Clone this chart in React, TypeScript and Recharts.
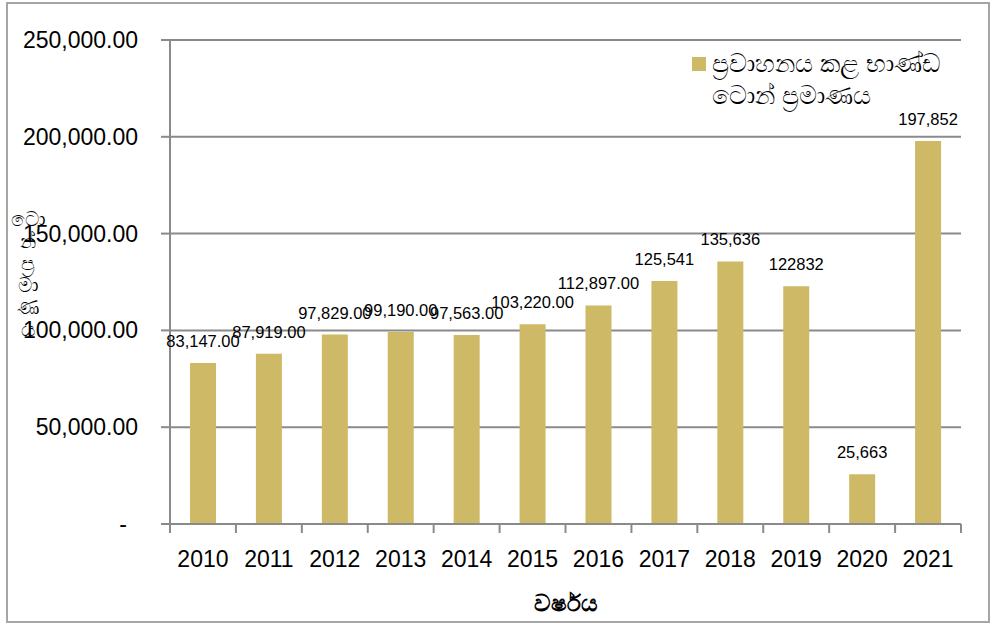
import React from 'react';
import { BarChart, Bar, XAxis, YAxis, CartesianGrid, LabelList, Legend } from 'recharts';

const years = ['2010', '2011', '2012', '2013', '2014', '2015', '2016', '2017', '2018', '2019', '2020', '2021'];
const tonnage = [83147, 87919, 97829, 99190, 97563, 103220, 112897, 125541, 135636, 122832, 25663, 197852];
const valueLabels = ['83,147.00', '87,919.00', '97,829.00', '99,190.00', '97,563.00', '103,220.00', '112,897.00', '125,541', '135,636', '122832', '25,663', '197,852'];
const yTicks = [0, 50000, 100000, 150000, 200000, 250000];
const seriesName = 'ප්‍රවාහනය කළ භාණ්ඩ ටොන් ප්‍රමාණය';
const legendLines = ['ප්‍රවාහනය කළ භාණ්ඩ', 'ටොන් ප්‍රමාණය'];
const xTitle = 'වර්ෂය';
const yTitleClusters = ['ටො', 'න්', 'ප්‍ර', 'මා', 'ණ', 'ය'];

const data = years.map((y, i) => ({ year: y, value: tonnage[i], label: valueLabels[i] }));

const FONT = '"Liberation Sans", Arial, sans-serif';
const BAR = '#CEB966';
const GRID = '#8a8a8a';

const fmtY = (v: number) =>
  v === 0 ? '-' : v.toLocaleString('en-US', { minimumFractionDigits: 2, maximumFractionDigits: 2 });

const YTick = (props: any) => {
  const { x, y, payload } = props;
  const v = payload.value as number;
  return (
    <text x={x} y={y} dx={v === 0 ? -11 : 0} dy={8} textAnchor="end" fontSize={23} fontFamily={FONT} fill="#000">
      {fmtY(v)}
    </text>
  );
};

const XTick = (props: any) => {
  const { x, y, payload, index } = props;
  const off = payload.offset ?? 0;
  return (
    <g>
      <line x1={x - off} x2={x - off} y1={y - 9} y2={y} stroke={GRID} strokeWidth={2} />
      {index === years.length - 1 && (
        <line x1={x + off} x2={x + off} y1={y - 9} y2={y} stroke={GRID} strokeWidth={2} />
      )}
      <text x={x} y={y + 34} textAnchor="middle" fontSize={23} fontFamily={FONT} fill="#000">
        {payload.value}
      </text>
    </g>
  );
};

const YTitle = (props: any) => {
  const vb = props.viewBox || { x: 0 };
  return (
    <text x={vb.x + 28} y={226} textAnchor="middle" fontSize={20} fontFamily={FONT} fill="#000">
      {yTitleClusters.map((c, i) => (
        <tspan key={i} x={vb.x + 28} dy={i === 0 ? 0 : 22}>
          {c}
        </tspan>
      ))}
    </text>
  );
};

const LegendContent = () => (
  <div style={{ display: 'flex', alignItems: 'flex-start', fontFamily: FONT, fontSize: 25, color: '#000' }}>
    <div style={{ width: 14, height: 14, background: BAR, marginTop: 9, marginRight: 6, flex: 'none' }} />
    <div style={{ lineHeight: '32px', marginTop: -1 }}>
      {legendLines.map((l, i) => (
        <div key={i} style={{ whiteSpace: 'nowrap' }}>{l}</div>
      ))}
    </div>
  </div>
);

export default function App() {
  return (
    <div style={{ position: 'absolute', left: 0, top: 0, width: 995, height: 626, background: '#fff' }}>
      <div
        style={{
          position: 'absolute',
          left: 6,
          top: 2,
          width: 984,
          height: 621,
          border: '2px solid #a6a6a6',
          boxSizing: 'border-box',
        }}
      />
      <div style={{ position: 'absolute', left: 0, top: 0 }}>
        <BarChart width={995} height={626} data={data} margin={{ top: 40, right: 34, bottom: 0, left: 0 }}>
          <CartesianGrid vertical={false} stroke={GRID} strokeWidth={2} />
          <XAxis
            dataKey="year"
            height={102}
            tickSize={9}
            tickMargin={0}
            tickLine={false}
            axisLine={{ stroke: GRID, strokeWidth: 2 }}
            tick={<XTick />}
            interval={0}
            label={{ value: xTitle, position: 'insideBottom', offset: 15, fontSize: 23, fontWeight: 'bold', fontFamily: FONT, fill: '#000' }}
          />
          <YAxis
            width={170}
            domain={[0, 250000]}
            ticks={yTicks}
            interval={0}
            tickSize={9}
            tickMargin={23}
            tickLine={{ stroke: GRID, strokeWidth: 2 }}
            axisLine={{ stroke: GRID, strokeWidth: 2 }}
            tick={<YTick />}
            label={{ content: <YTitle /> }}
          />
          <Legend
            layout="vertical"
            verticalAlign="middle"
            align="center"
            content={<LegendContent />}
            wrapperStyle={{ top: 48, left: 692, width: 295, height: 70 }}
          />
          <Bar dataKey="value" name={seriesName} fill={BAR} barSize={26} isAnimationActive={false}>
            <LabelList dataKey="label" position="top" offset={16} fontSize={16.5} fontFamily={FONT} fill="#000" />
          </Bar>
        </BarChart>
      </div>
    </div>
  );
}
